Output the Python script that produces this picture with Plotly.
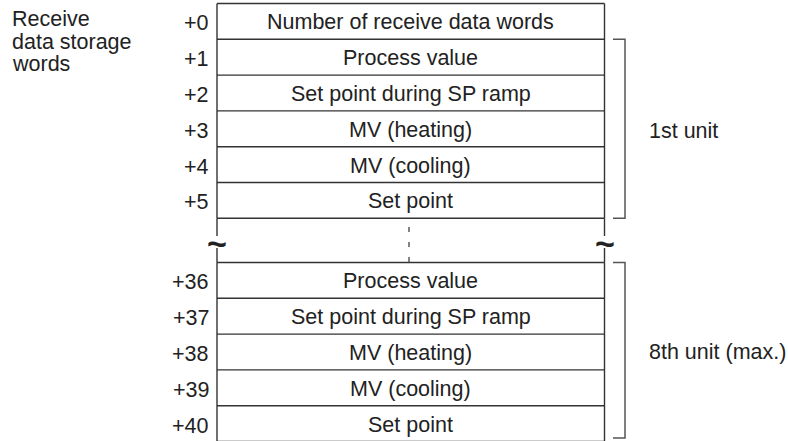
import plotly.graph_objects as go

# ---- data ----
offsets_unit1 = ["+0", "+1", "+2", "+3", "+4", "+5"]
fields_unit1 = ["Number of receive data words", "Process value", "Set point during SP ramp",
                "MV (heating)", "MV (cooling)", "Set point"]
offsets_unit8 = ["+36", "+37", "+38", "+39", "+40"]
fields_unit8 = ["Process value", "Set point during SP ramp", "MV (heating)",
                "MV (cooling)", "Set point"]
group_labels = ["1st unit", "8th unit (max.)"]
side_label_lines = ["Receive", "data storage", "words"]

# ---- layout constants ----
W, H = 788, 441
X0, X1 = 217, 604.5
ROW = 35.8
TOP1 = 3.5
TOP2 = 262.5
FS = 21.5
FONT = "Liberation Sans, Arial, Helvetica, sans-serif"
TXT = "#222222"
LINE = "#333333"
BRK = "#555555"

fig = go.Figure()
shapes = []
ann = []

def cell_block(top, offsets, fields):
    n = len(fields)
    bottom = top + n * ROW
    for x in (X0, X1):
        shapes.append(dict(type="line", x0=x, x1=x, y0=top, y1=bottom,
                           line=dict(color=LINE, width=1.4)))
    for i in range(n + 1):
        y = top + i * ROW
        shapes.append(dict(type="line", x0=X0, x1=X1, y0=y, y1=y,
                           line=dict(color=LINE, width=1.4)))
    for i, (o, f) in enumerate(zip(offsets, fields)):
        yc = top + (i + 0.5) * ROW + 1
        ann.append(dict(x=(X0 + X1) / 2, y=yc, text=f, showarrow=False,
                        xanchor="center", yanchor="middle",
                        font=dict(size=FS, color=TXT, family=FONT)))
        ann.append(dict(x=211, y=yc + 1, text=o, showarrow=False,
                        xanchor="right", yanchor="middle",
                        font=dict(size=FS, color=TXT, family=FONT)))
    return bottom

b1 = cell_block(TOP1, offsets_unit1, fields_unit1)
b2 = cell_block(TOP2, offsets_unit8, fields_unit8)

# gap connectors with break marks
for x in (X0, X1):
    shapes.append(dict(type="line", x0=x, x1=x, y0=b1, y1=236,
                       line=dict(color=LINE, width=1.4)))
    shapes.append(dict(type="line", x0=x, x1=x, y0=248, y1=TOP2,
                       line=dict(color=LINE, width=1.4)))
    ann.append(dict(x=x, y=243, text="<b>~</b>", showarrow=False,
                    xanchor="center", yanchor="middle",
                    font=dict(size=34, color=TXT, family=FONT)))

# dashed centre line
shapes.append(dict(type="line", x0=409, x1=409, y0=227, y1=TOP2,
                   line=dict(color=LINE, width=1.2, dash="5px,10px")))

# brackets
def bracket(y0, y1, label):
    shapes.append(dict(type="path",
                       path=f"M 613,{y0} L 625,{y0} L 625,{y1} L 613,{y1}",
                       line=dict(color=BRK, width=1.5)))
    ann.append(dict(x=647, y=(y0 + y1) / 2 + 2, text=label, showarrow=False,
                    xanchor="left", yanchor="middle",
                    font=dict(size=FS, color=TXT, family=FONT)))

bracket(TOP1 + ROW, b1, group_labels[0])
bracket(TOP2, 438, group_labels[1])

# side label
for i, t in enumerate(side_label_lines):
    ann.append(dict(x=10, y=19 + i * 22.5, text=t, showarrow=False,
                    xanchor="left", yanchor="middle",
                    font=dict(size=FS, color=TXT, family=FONT)))

fig.update_layout(
    width=W, height=H,
    margin=dict(l=0, r=0, t=0, b=0),
    paper_bgcolor="white", plot_bgcolor="white",
    xaxis=dict(range=[0, W], visible=False, fixedrange=True),
    yaxis=dict(range=[H, 0], visible=False, fixedrange=True),
    shapes=shapes, annotations=ann, showlegend=False,
)
fig.write_html("out.html", config={"displayModeBar": False},
               post_script="document.body.style.margin='0';document.body.style.overflow='hidden';")
